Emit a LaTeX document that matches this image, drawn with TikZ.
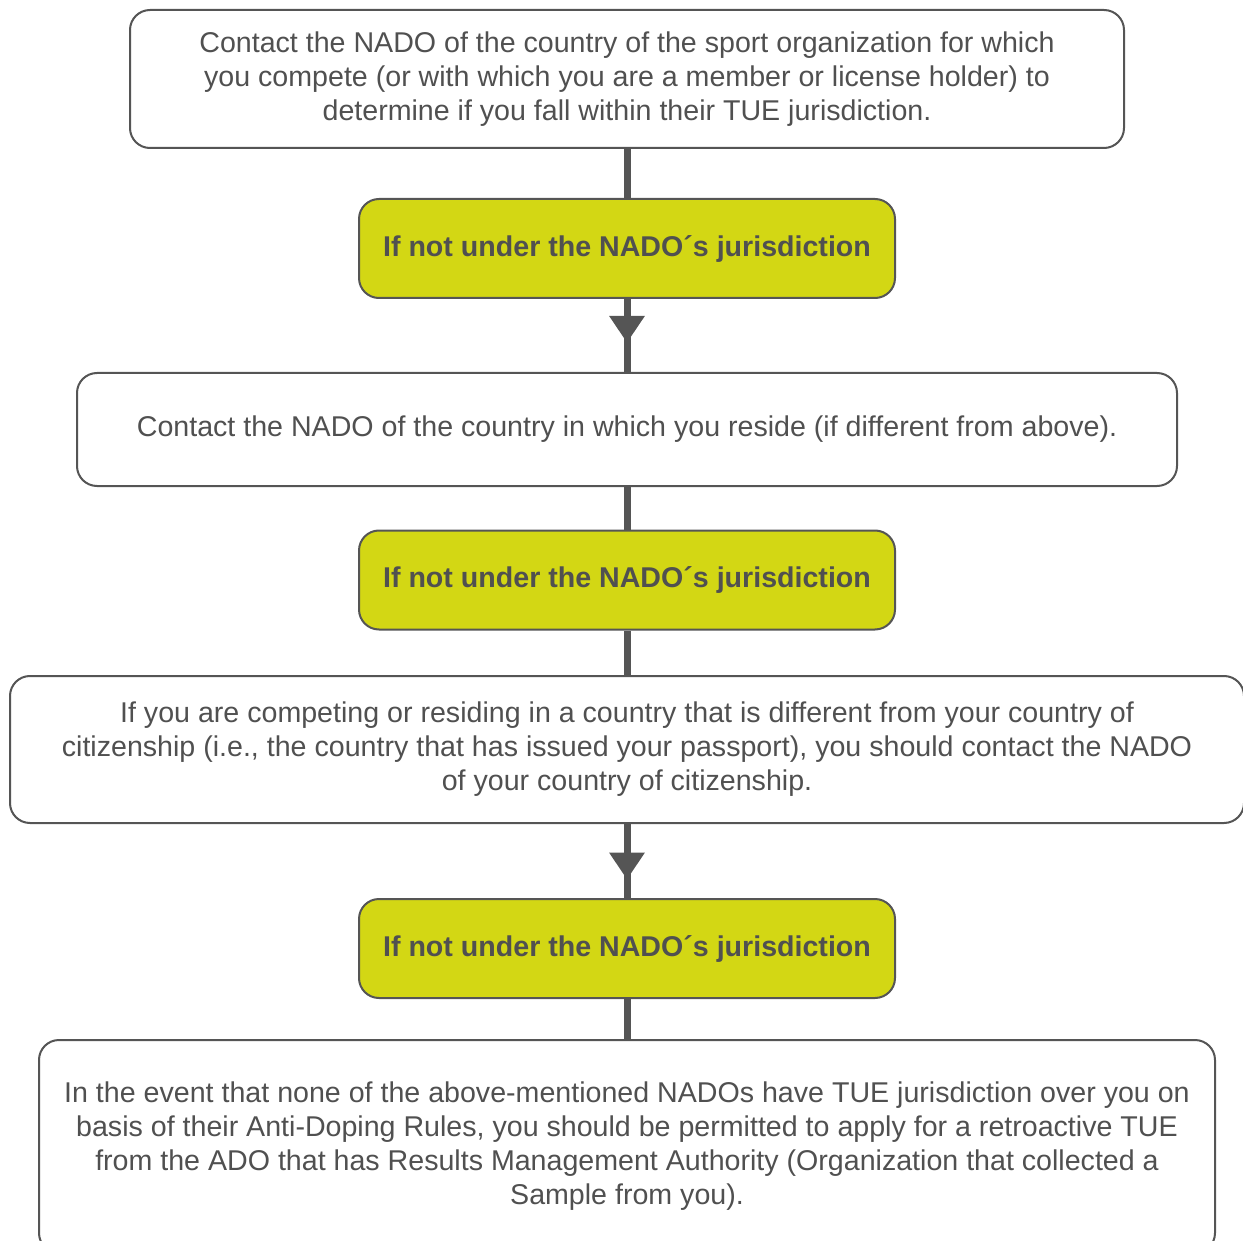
\documentclass[tikz,border=0pt]{standalone}
\usepackage{fontspec}
\setmainfont{Liberation Sans}
\usetikzlibrary{arrows.meta,decorations.markings}
\pgfdeclarelayer{background}
\pgfsetlayers{background,main}
\definecolor{nadogreen}{RGB}{211,215,20}
\definecolor{linegray}{RGB}{85,85,85}
\definecolor{textgray}{RGB}{80,80,80}
\tikzstyle{infobox}=[rectangle, draw=linegray, line width=1pt
,fill=white
,rounded corners=10pt
,align=center
,inner sep=0pt
,text=textgray
,font=\fontsize{14.3pt}{17pt}\selectfont
]
\tikzstyle{decision}=[infobox, fill=nadogreen
,minimum width=268pt, minimum height=49.5pt
,font=\fontsize{14.3pt}{17pt}\selectfont\bfseries
]
\tikzstyle{link} = [draw=linegray, line width=3.5pt, -]
\tikzstyle{midarrow} = [postaction={decorate}, decoration={markings,
    mark=at position #1 with {\arrow[linegray]{Triangle[width=17pt,length=13.5pt]}}}]

\begin{document}
\begin{tikzpicture}[x=0.5pt, y=-0.5pt]
    \useasboundingbox (0,0) rectangle (1243,1241);
    \clip (0,0) rectangle (1243,1241);
    % The four information boxes
    \node[infobox, minimum width=497pt, minimum height=69pt] (compete) at (627,79)
        {Contact the NADO of the country of the sport organization for which\\
         you compete (or with which you are a member or license holder) to\\
         determine if you fall within their TUE jurisdiction.};
    \node[infobox, minimum width=550pt, minimum height=56.5pt] (reside) at (627,429.5)
        {Contact the NADO of the country in which you reside (if different from above).};
    \node[infobox, minimum width=617pt, minimum height=73.5pt] (citizen) at (627,749.5)
        {If you are competing or residing in a country that is different from your country of\\
         citizenship (i.e., the country that has issued your passport), you should contact the NADO\\
         of your country of citizenship.};
    \node[infobox, minimum width=588pt, minimum height=106.5pt] (retro) at (627,1146.5)
        {In the event that none of the above-mentioned NADOs have TUE jurisdiction over you on\\
         basis of their Anti-Doping Rules, you should be permitted to apply for a retroactive TUE\\
         from the ADO that has Results Management Authority (Organization that collected a\\
         Sample from you).};

    % Then the green decision boxes
    \foreach \y/\name in {248.5/notA, 580/notB, 948.5/notC}
        \node[decision] (\name) at (627,\y) {If not under the NADO´s jurisdiction};

    % Connect boxes with lines, behind the boxes
    \begin{pgfonlayer}{background}
    \foreach \source/\dest in {compete/notA, reside/notB, notB/citizen, notC/retro}
        \path[link] (\source) -- (\dest);
    \path[link, midarrow=0.6] (notA.south) -- (reside.north);
    \path[link, midarrow=0.75] (citizen.south) -- (notC.north);
    \end{pgfonlayer}
\end{tikzpicture}
\end{document}
